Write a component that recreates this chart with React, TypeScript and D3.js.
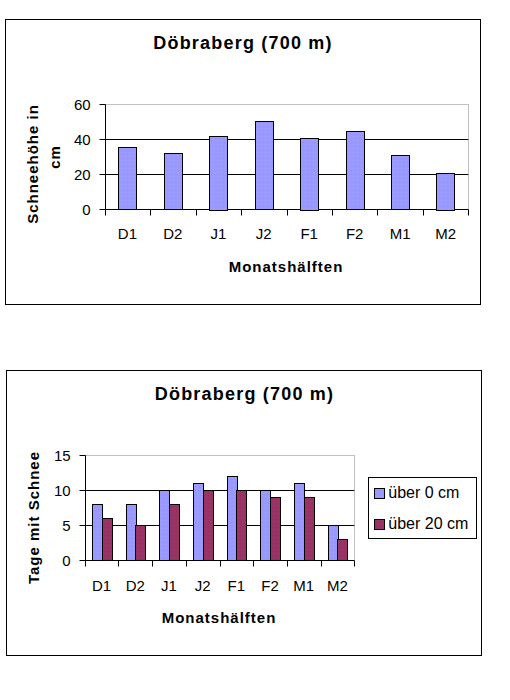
import React from 'react';
import * as d3 from 'd3';

// data
const halves = ['D1', 'D2', 'J1', 'J2', 'F1', 'F2', 'M1', 'M2'];
const snowDepth = [35.5, 32, 42, 50.5, 41, 44.5, 31, 21];
const daysOver0 = [8, 8, 10, 11, 12, 10, 11, 5];
const daysOver20 = [6, 5, 8, 10, 10, 9, 9, 3];
const depthTicks = [0, 20, 40, 60];
const dayTicks = [0, 5, 10, 15];
const seriesNames = ['über 0 cm', 'über 20 cm'];
const chartTitle = 'Döbraberg (700 m)';

const font = '"Liberation Sans", Arial, sans-serif';
const px = (v: number) => Math.round(v) + 0.5;

type AxisProps = {
  x: d3.ScaleBand<string>;
  y: d3.ScaleLinear<number, number>;
  ticks: number[];
  labelY: number;
};

// grid, axes, dotted frame and labels of one plot area
const PlotFrame = ({ x, y, ticks, labelY }: AxisProps) => {
  const [x0, x1] = x.range();
  const [yb, yt] = y.range();
  const edges = [...x.domain().map((d) => x(d) as number), x1];
  return (
    <g>
      {ticks.filter((t) => t !== 0 && t !== ticks[ticks.length - 1]).map((t) => (
        <line key={t} x1={px(x0)} x2={px(x1)} y1={px(y(t))} y2={px(y(t))} stroke="#000" />
      ))}
      <path
        d={`M${px(x0)},${px(yt)}H${px(x1)}V${px(yb)}`}
        fill="none"
        stroke="#808080"
        strokeDasharray="1,1"
      />
      <line x1={px(x0)} x2={px(x0)} y1={px(yt)} y2={px(yb)} stroke="#000" />
      <line x1={px(x0)} x2={px(x1)} y1={px(yb)} y2={px(yb)} stroke="#000" />
      {ticks.map((t) => (
        <g key={t}>
          <line x1={px(x0) - 6} x2={px(x0)} y1={px(y(t))} y2={px(y(t))} stroke="#000" />
          <text x={x0 - 14} y={y(t)} dy="0.36em" textAnchor="end" fontSize={15}>
            {t}
          </text>
        </g>
      ))}
      {edges.map((e, i) => (
        <line key={i} x1={px(e)} x2={px(e)} y1={px(yb)} y2={px(yb) + 6} stroke="#000" />
      ))}
      {x.domain().map((d) => (
        <text key={d} x={(x(d) as number) + x.bandwidth() / 2} y={labelY} dy="0.36em" textAnchor="middle" fontSize={15}>
          {d}
        </text>
      ))}
    </g>
  );
};

export default function App() {
  // chart 1: snow depth
  const x1 = d3.scaleBand().domain(halves).range([104.7, 468.3]);
  const y1 = d3.scaleLinear().domain([0, 60]).range([209.3, 104.3]);
  const inner1 = d3.scaleBand().domain(['depth']).range([0, x1.bandwidth()]).paddingOuter(0.75);

  // chart 2: days with snow
  const x2 = d3.scaleBand().domain(halves).range([84.7, 354.3]);
  const y2 = d3.scaleLinear().domain([0, 15]).range([560.3, 455.3]);
  const inner2 = d3.scaleBand().domain(seriesNames).range([0, x2.bandwidth()]).paddingOuter(0.75);
  const series = [daysOver0, daysOver20];

  return (
    <svg
      width={510}
      height={700}
      style={{ position: 'absolute', left: 0, top: 0, background: '#fff' }}
      fontFamily={font}
    >
      <defs>
        <pattern id="dither0" width={4} height={4} patternUnits="userSpaceOnUse">
          <rect width={4} height={4} fill="#9999ff" />
          <rect x={1} y={0} width={1} height={1} fill="#a3a3f8" />
          <rect x={3} y={2} width={1} height={1} fill="#8f92ff" />
          <rect x={0} y={3} width={1} height={1} fill="#a096f0" />
        </pattern>
        <pattern id="dither1" width={4} height={4} patternUnits="userSpaceOnUse">
          <rect width={4} height={4} fill="#993366" />
          <rect x={2} y={1} width={1} height={1} fill="#a23a70" />
          <rect x={0} y={3} width={1} height={1} fill="#8e2f5e" />
        </pattern>
      </defs>
      <rect width={510} height={700} fill="#fff" />

      {/* chart 1 */}
      <rect x={5.5} y={19.5} width={475} height={285} fill="#fff" stroke="#000" />
      <text x={243} y={43} dy="0.36em" textAnchor="middle" fontSize={18} fontWeight="bold" letterSpacing={1.2}>
        {chartTitle}
      </text>
      <PlotFrame x={x1} y={y1} ticks={depthTicks} labelY={234} />
      {halves.map((h, i) => (
        <rect
          key={h}
          x={px((x1(h) as number) + (inner1('depth') as number))}
          y={px(y1(snowDepth[i]))}
          width={Math.round(inner1.bandwidth())}
          height={Math.round(y1(0) - y1(snowDepth[i]))}
          fill="url(#dither0)"
          stroke="#000"
        />
      ))}
      <text x={286} y={267} dy="0.36em" textAnchor="middle" fontSize={15} fontWeight="bold" letterSpacing={1}>
        Monatshälften
      </text>
      <text transform="translate(32.5,164) rotate(-90)" dy="0.36em" textAnchor="middle" fontSize={15} fontWeight="bold" letterSpacing={1}>
        Schneehöhe in
      </text>
      <text transform="translate(54.5,157) rotate(-90)" dy="0.36em" textAnchor="middle" fontSize={15} fontWeight="bold" letterSpacing={1}>
        cm
      </text>

      {/* chart 2 */}
      <rect x={6.5} y={370.5} width={475} height={285} fill="#fff" stroke="#000" />
      <text x={244.5} y={394} dy="0.36em" textAnchor="middle" fontSize={18} fontWeight="bold" letterSpacing={1.2}>
        {chartTitle}
      </text>
      <PlotFrame x={x2} y={y2} ticks={dayTicks} labelY={586} />
      {series.map((vals, s) =>
        halves.map((h, i) => (
          <rect
            key={`${s}-${h}`}
            x={px((x2(h) as number) + (inner2(seriesNames[s]) as number))}
            y={px(y2(vals[i]))}
            width={Math.round(inner2.bandwidth())}
            height={Math.round(y2(0) - y2(vals[i]))}
            fill={`url(#dither${s})`}
            stroke="#000"
          />
        ))
      )}
      <text x={219} y={618} dy="0.36em" textAnchor="middle" fontSize={15} fontWeight="bold" letterSpacing={1}>
        Monatshälften
      </text>
      <text transform="translate(33.3,517.5) rotate(-90)" dy="0.36em" textAnchor="middle" fontSize={15} fontWeight="bold" letterSpacing={1}>
        Tage mit Schnee
      </text>

      {/* legend */}
      <rect x={368.5} y={477.5} width={108} height={61} fill="#fff" stroke="#000" />
      {seriesNames.map((name, s) => (
        <g key={name} transform={`translate(0,${s * 31})`}>
          <rect x={374.5} y={488.5} width={10} height={10} fill={`url(#dither${s})`} stroke="#000" />
          <text x={388.3} y={492} dy="0.36em" fontSize={16}>
            {name}
          </text>
        </g>
      ))}
    </svg>
  );
}
